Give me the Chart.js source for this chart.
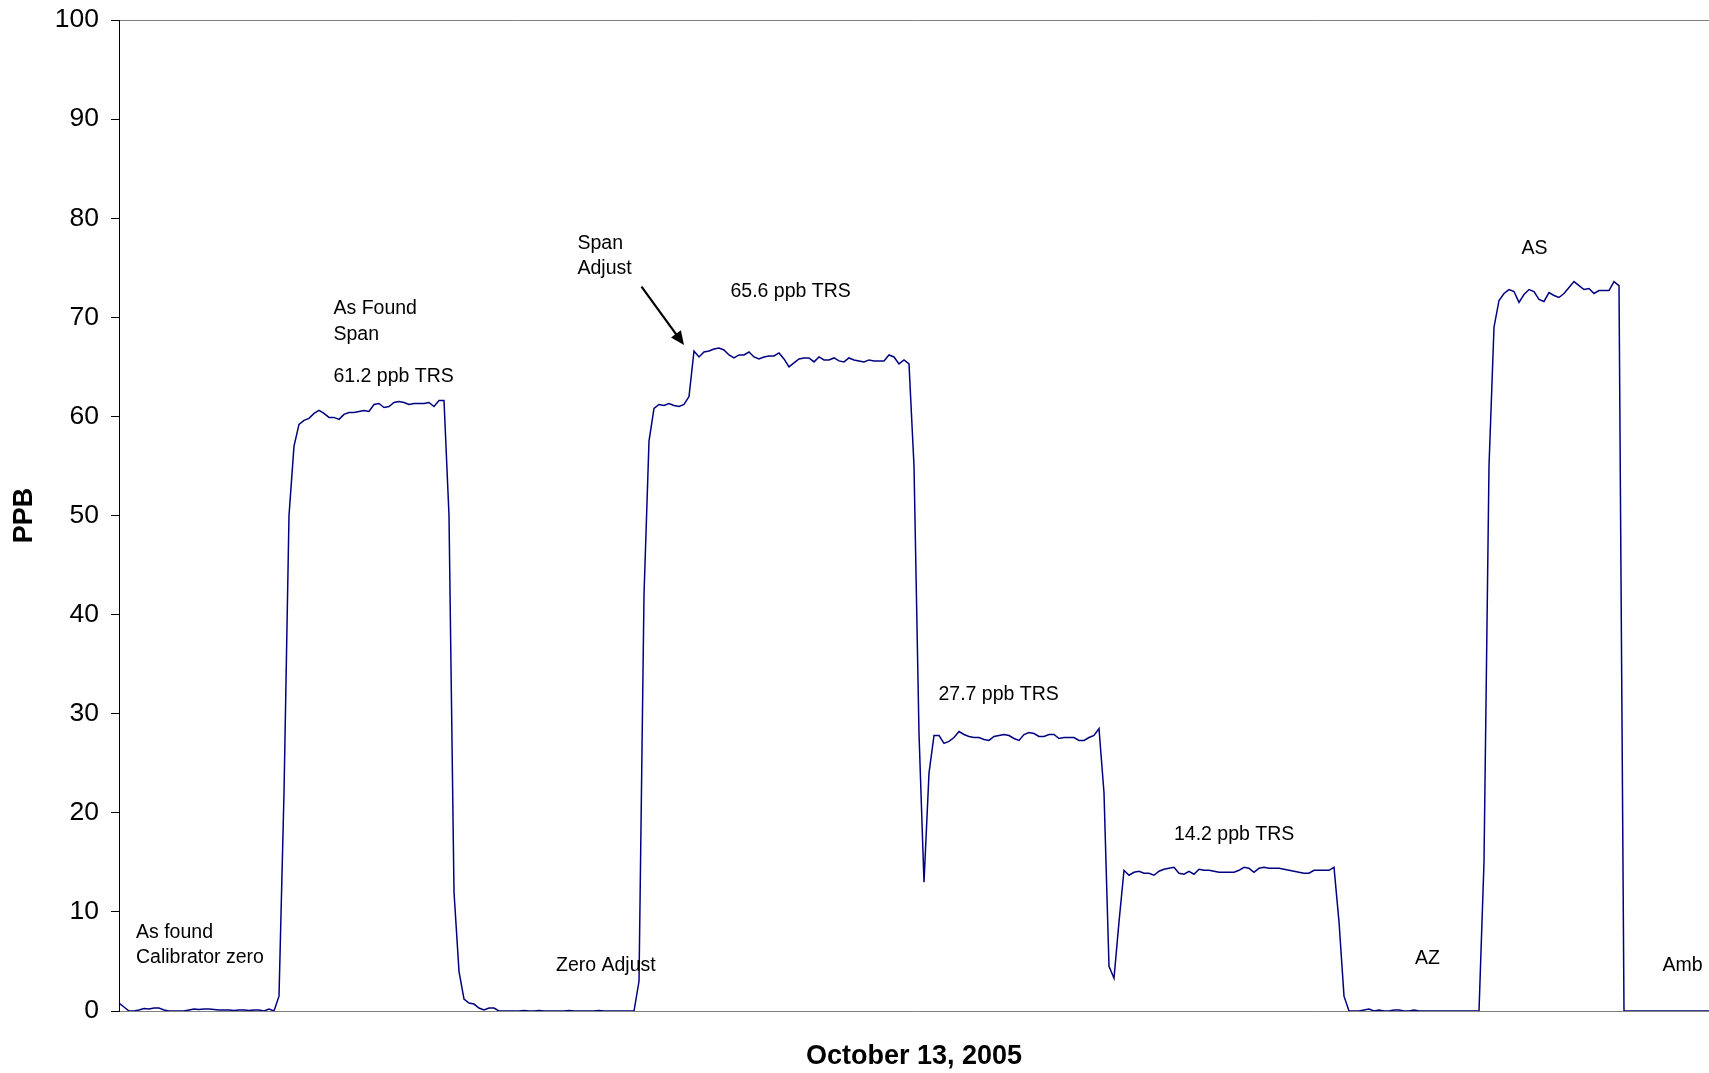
<!DOCTYPE html>
<html>
<head>
<meta charset="utf-8">
<title>TRS calibration</title>
<script src="https://cdn.jsdelivr.net/npm/chart.js@4/dist/chart.umd.min.js"></script>
<style>
  html, body { margin: 0; padding: 0; background: #fff; }
  #wrap { width: 1709px; height: 1073px; }
</style>
</head>
<body>
<div id="wrap"><canvas id="chart"></canvas></div>
<script>
// ppb readings, one per sample
var ppb = [
  0.8, 0.4, 0, 0, 0.1, 0.25, 0.2, 0.3, 0.3, 0.1,
  0, 0, 0, 0, 0.1, 0.2, 0.15, 0.2, 0.2, 0.15,
  0.1, 0.1, 0.1, 0.05, 0.1, 0.1, 0.05, 0.1, 0.1, 0,
  0.2, 0, 1.5, 22, 50, 57, 59.2, 59.6, 59.8, 60.3,
  60.6, 60.3, 59.9, 59.9, 59.7, 60.2, 60.4, 60.4, 60.5, 60.6,
  60.5, 61.2, 61.3, 60.9, 61, 61.4, 61.5, 61.4, 61.2, 61.3,
  61.3, 61.3, 61.4, 61, 61.6, 61.6, 50, 12, 4, 1.2,
  0.8, 0.7, 0.3, 0.1, 0.3, 0.3, 0, 0, 0, 0,
  0, 0.05, 0, 0, 0.05, 0, 0, 0, 0, 0,
  0.05, 0, 0, 0, 0, 0, 0.05, 0, 0, 0,
  0, 0, 0, 0, 3, 42, 57.5, 60.8, 61.2, 61.1,
  61.3, 61.1, 61, 61.2, 62, 66.6, 66, 66.5, 66.6, 66.8,
  66.9, 66.7, 66.2, 65.9, 66.2, 66.2, 66.5, 66, 65.8, 66,
  66.1, 66.1, 66.4, 65.8, 65, 65.4, 65.8, 65.9, 65.9, 65.5,
  66, 65.7, 65.7, 65.9, 65.6, 65.5, 65.9, 65.7, 65.6, 65.5,
  65.7, 65.6, 65.6, 65.6, 66.2, 66, 65.3, 65.7, 65.3, 55,
  28, 13, 24, 27.8, 27.8, 27, 27.2, 27.6, 28.2, 27.9,
  27.7, 27.6, 27.6, 27.4, 27.3, 27.7, 27.8, 27.9, 27.8, 27.5,
  27.3, 27.9, 28.1, 28, 27.7, 27.7, 27.9, 27.9, 27.5, 27.6,
  27.6, 27.6, 27.3, 27.3, 27.6, 27.8, 28.5, 22, 4.5, 3.3,
  9, 14.2, 13.7, 14, 14.1, 13.9, 13.9, 13.7, 14.1, 14.3,
  14.4, 14.5, 13.9, 13.8, 14.1, 13.8, 14.3, 14.2, 14.2, 14.1,
  14, 14, 14, 14, 14.2, 14.5, 14.4, 14, 14.4, 14.5,
  14.4, 14.4, 14.4, 14.3, 14.2, 14.1, 14, 13.9, 13.9, 14.2,
  14.2, 14.2, 14.2, 14.5, 9, 1.5, 0, 0, 0, 0.1,
  0.2, 0, 0.1, 0, 0, 0.1, 0.1, 0, 0, 0.1,
  0, 0, 0, 0, 0, 0, 0, 0, 0, 0,
  0, 0, 0, 15, 55, 69, 71.7, 72.4, 72.8, 72.6,
  71.5, 72.3, 72.8, 72.6, 71.8, 71.6, 72.5, 72.2, 72, 72.4,
  73, 73.6, 73.2, 72.8, 72.9, 72.4, 72.7, 72.7, 72.7, 73.6,
  73.2, 0, 0, 0, 0, 0, 0, 0, 0, 0,
  0, 0, 0, 0, 0, 0, 0, 0, 0
];
var samples = ppb.map(function (v, i) { return i + 1; });
var yTicks = [0, 10, 20, 30, 40, 50, 60, 70, 80, 90, 100];

// text notes placed at [sample index, ppb]
var notes = [
  { text: "As found", at: [3.4, 7.9] },
  { text: "Calibrator zero", at: [3.4, 5.35] },
  { text: "As Found", at: [42.9, 70.9] },
  { text: "Span", at: [42.9, 68.3] },
  { text: "61.2 ppb TRS", at: [42.9, 64.0] },
  { text: "Zero Adjust", at: [87.4, 4.55] },
  { text: "Span", at: [91.7, 77.4] },
  { text: "Adjust", at: [91.7, 74.9] },
  { text: "65.6 ppb TRS", at: [122.3, 72.6] },
  { text: "27.7 ppb TRS", at: [163.9, 31.95] },
  { text: "14.2 ppb TRS", at: [211, 17.75] },
  { text: "AZ", at: [259.2, 5.3] },
  { text: "AS", at: [280.5, 76.95] },
  { text: "Amb", at: [308.7, 4.55] }
];
var arrow = { from: [104.5, 73.1], to: [113, 67.2] };

var FONT = "'Liberation Sans', Arial, sans-serif";
Chart.defaults.font.family = FONT;
Chart.defaults.color = "#000";

var notesPlugin = {
  id: "notes",
  afterDatasetsDraw: function (chart) {
    var xs = chart.scales.x;
    var ys = chart.scales.y;
    var ctx = chart.ctx;
    ctx.save();
    ctx.font = "19.5px " + FONT;
    ctx.fillStyle = "#000";
    ctx.textAlign = "left";
    ctx.textBaseline = "middle";
    notes.forEach(function (n) {
      ctx.fillText(n.text, xs.getPixelForValue(n.at[0]), ys.getPixelForValue(n.at[1]));
    });

    var x1 = xs.getPixelForValue(arrow.from[0]);
    var y1 = ys.getPixelForValue(arrow.from[1]);
    var x2 = xs.getPixelForValue(arrow.to[0]);
    var y2 = ys.getPixelForValue(arrow.to[1]);
    var ang = Math.atan2(y2 - y1, x2 - x1);
    var head = 15;
    ctx.strokeStyle = "#000";
    ctx.lineWidth = 2.2;
    ctx.beginPath();
    ctx.moveTo(x1, y1);
    ctx.lineTo(x2 - Math.cos(ang) * head * 0.8, y2 - Math.sin(ang) * head * 0.8);
    ctx.stroke();
    ctx.beginPath();
    ctx.moveTo(x2, y2);
    ctx.lineTo(x2 - head * Math.cos(ang - 0.42), y2 - head * Math.sin(ang - 0.42));
    ctx.lineTo(x2 - head * Math.cos(ang + 0.42), y2 - head * Math.sin(ang + 0.42));
    ctx.closePath();
    ctx.fill();
    ctx.restore();
  }
};

new Chart(document.getElementById("chart"), {
  type: "line",
  data: {
    labels: samples,
    datasets: [{
      data: ppb,
      xAxisID: "x",
      yAxisID: "y",
      borderColor: "#000080",
      borderWidth: 1.5,
      pointRadius: 0,
      tension: 0,
      fill: false
    }]
  },
  options: {
    responsive: true,
    maintainAspectRatio: false,
    animation: false,
    layout: { padding: 0 },
    plugins: { legend: { display: false }, tooltip: { enabled: false } },
    scales: {
      x: {
        type: "category",
        position: "bottom",
        offset: false,
        afterFit: function (s) { s.height = 62; },
        ticks: { display: false },
        grid: { display: false },
        border: { color: "#808080", width: 1 },
        title: {
          display: true,
          text: "October 13, 2005",
          font: { size: 27, weight: "bold" },
          color: "#000",
          padding: { top: 0, bottom: 0 }
        }
      },
      x2: {
        type: "category",
        position: "top",
        offset: false,
        afterFit: function (s) { s.height = 20; },
        ticks: { display: false },
        grid: { display: false },
        border: { color: "#808080", width: 1 }
      },
      y: {
        min: 0,
        max: 100,
        afterFit: function (s) {
          s.width = 119;
          // keep the tick labels from pushing the plot down
          s.paddingTop = 10;
          s.paddingBottom = 10;
        },
        afterBuildTicks: function (s) {
          s.ticks = yTicks.map(function (v) { return { value: v }; });
        },
        ticks: { font: { size: 26.5 }, color: "#000", padding: 12 },
        grid: { drawOnChartArea: false, drawTicks: true, tickLength: 8, color: "#000" },
        border: { color: "#000", width: 1 },
        title: {
          display: true,
          text: "PPB",
          font: { size: 27, weight: "bold" },
          color: "#000",
          padding: { top: 8, bottom: 0 }
        }
      }
    }
  },
  plugins: [notesPlugin]
});
</script>
</body>
</html>
